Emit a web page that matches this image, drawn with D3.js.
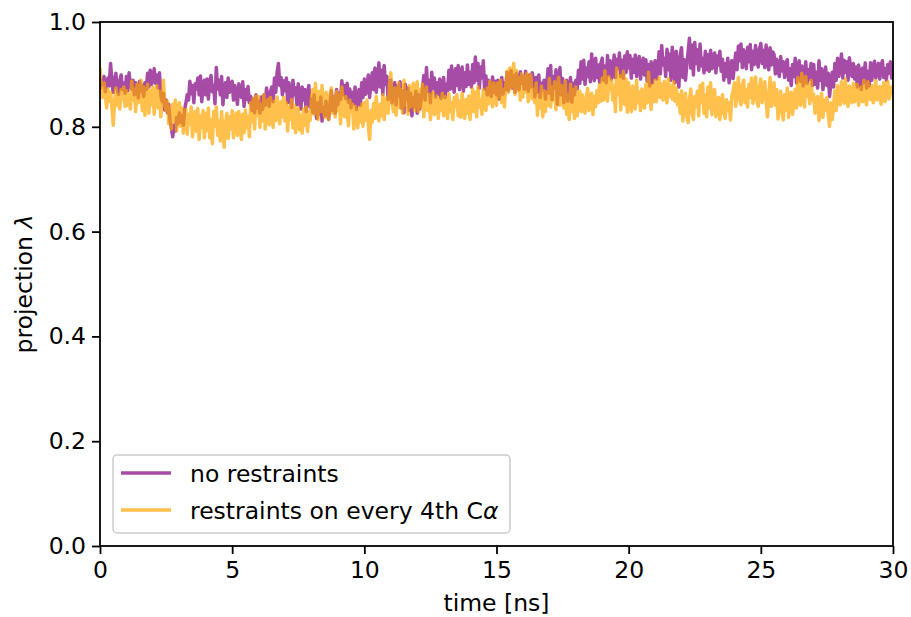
<!DOCTYPE html>
<html>
<head>
<meta charset="utf-8">
<script src="https://cdn.jsdelivr.net/npm/d3@7"></script>
<style>
  html, body { margin: 0; padding: 0; background: #fff; }
  svg { display: block; font-family: 'DejaVu Sans', sans-serif; }
</style>
</head>
<body>
<div id="chart"></div>
<script>
// projection lambda sampled every 0.05 ns, 0 .. 30 ns (one row = 1 ns)
const timeStep = 0.05

const noRestraints = [
  0.872, 0.889, 0.881, 0.896, 0.867, 0.884, 0.893, 0.878, 0.921, 0.886, 0.866, 0.891, 0.902, 0.874, 0.862, 0.888, 0.899, 0.871, 0.883, 0.864,
  0.896, 0.869, 0.903, 0.881, 0.872, 0.889, 0.861, 0.884, 0.876, 0.855, 0.887, 0.868, 0.879, 0.858, 0.884, 0.871, 0.902, 0.876, 0.908, 0.881,
  0.894, 0.911, 0.883, 0.899, 0.874, 0.903, 0.861, 0.848, 0.864, 0.832, 0.851, 0.827, 0.843, 0.812, 0.798, 0.781, 0.803, 0.792, 0.818, 0.806,
  0.827, 0.809, 0.821, 0.803, 0.832, 0.846, 0.861, 0.851, 0.887, 0.863, 0.879, 0.846, 0.882, 0.872, 0.893, 0.861, 0.897, 0.848, 0.876, 0.889,
  0.861, 0.891, 0.853, 0.884, 0.898, 0.867, 0.879, 0.844, 0.913, 0.872, 0.889, 0.861, 0.896, 0.842, 0.874, 0.884, 0.856, 0.893, 0.866, 0.882,
  0.887, 0.851, 0.879, 0.864, 0.843, 0.882, 0.868, 0.856, 0.886, 0.839, 0.871, 0.852, 0.877, 0.846, 0.858, 0.831, 0.854, 0.827, 0.861, 0.836,
  0.849, 0.826, 0.857, 0.833, 0.861, 0.841, 0.874, 0.851, 0.839, 0.868, 0.876, 0.848, 0.893, 0.866, 0.904, 0.921, 0.879, 0.894, 0.861, 0.888,
  0.869, 0.893, 0.846, 0.884, 0.857, 0.837, 0.889, 0.861, 0.874, 0.842, 0.882, 0.856, 0.834, 0.876, 0.851, 0.871, 0.829, 0.862, 0.879, 0.838,
  0.853, 0.827, 0.861, 0.832, 0.816, 0.846, 0.824, 0.857, 0.811, 0.838, 0.821, 0.849, 0.829, 0.814, 0.843, 0.869, 0.831, 0.858, 0.826, 0.871,
  0.842, 0.864, 0.852, 0.888, 0.861, 0.879, 0.854, 0.883, 0.847, 0.872, 0.836, 0.866, 0.844, 0.876, 0.833, 0.858, 0.871, 0.841, 0.884, 0.856,
  0.891, 0.862, 0.878, 0.899, 0.856, 0.884, 0.903, 0.871, 0.912, 0.866, 0.889, 0.922, 0.876, 0.908, 0.862, 0.917, 0.881, 0.896, 0.852, 0.887,
  0.889, 0.846, 0.871, 0.884, 0.842, 0.878, 0.859, 0.886, 0.836, 0.869, 0.827, 0.881, 0.852, 0.874, 0.831, 0.864, 0.821, 0.856, 0.838, 0.868,
  0.826, 0.861, 0.834, 0.852, 0.873, 0.898, 0.851, 0.913, 0.868, 0.889, 0.846, 0.904, 0.874, 0.893, 0.857, 0.884, 0.862, 0.891, 0.854, 0.878,
  0.894, 0.856, 0.881, 0.869, 0.908, 0.872, 0.916, 0.883, 0.866, 0.911, 0.879, 0.917, 0.871, 0.896, 0.914, 0.868, 0.903, 0.877, 0.918, 0.881,
  0.904, 0.876, 0.919, 0.884, 0.933, 0.889, 0.921, 0.874, 0.914, 0.893, 0.926, 0.872, 0.897, 0.861, 0.889, 0.872, 0.858, 0.895, 0.866, 0.887,
  0.861, 0.889, 0.853, 0.876, 0.894, 0.862, 0.884, 0.871, 0.904, 0.869, 0.891, 0.907, 0.874, 0.898, 0.866, 0.902, 0.879, 0.871, 0.905, 0.883,
  0.896, 0.872, 0.906, 0.881, 0.868, 0.899, 0.876, 0.903, 0.889, 0.857, 0.894, 0.866, 0.899, 0.856, 0.883, 0.871, 0.889, 0.853, 0.879, 0.911,
  0.864, 0.917, 0.852, 0.896, 0.874, 0.909, 0.843, 0.884, 0.913, 0.861, 0.892, 0.846, 0.876, 0.889, 0.849, 0.872, 0.894, 0.847, 0.883, 0.861,
  0.889, 0.872, 0.908, 0.883, 0.924, 0.891, 0.927, 0.881, 0.912, 0.896, 0.924, 0.886, 0.939, 0.903, 0.888, 0.931, 0.894, 0.918, 0.885, 0.921,
  0.931, 0.889, 0.916, 0.884, 0.936, 0.898, 0.926, 0.891, 0.903, 0.937, 0.894, 0.929, 0.911, 0.941, 0.896, 0.927, 0.892, 0.935, 0.904, 0.943,
  0.912, 0.936, 0.893, 0.929, 0.904, 0.937, 0.896, 0.922, 0.934, 0.891, 0.917, 0.931, 0.899, 0.928, 0.887, 0.919, 0.878, 0.924, 0.884, 0.913,
  0.926, 0.891, 0.907, 0.943, 0.901, 0.955, 0.918, 0.931, 0.896, 0.948, 0.909, 0.939, 0.889, 0.952, 0.921, 0.884, 0.944, 0.903, 0.876, 0.937,
  0.951, 0.894, 0.928, 0.889, 0.918, 0.944, 0.969, 0.912, 0.956, 0.899, 0.961, 0.921, 0.947, 0.908, 0.958, 0.916, 0.931, 0.903, 0.944, 0.909,
  0.938, 0.906, 0.946, 0.911, 0.927, 0.941, 0.903, 0.935, 0.918, 0.944, 0.906, 0.929, 0.889, 0.921, 0.896, 0.931, 0.884, 0.912, 0.926, 0.892,
  0.918, 0.941, 0.909, 0.954, 0.926, 0.958, 0.913, 0.947, 0.931, 0.911, 0.952, 0.924, 0.957, 0.909, 0.944, 0.919, 0.955, 0.928, 0.914, 0.949,
  0.959, 0.921, 0.946, 0.913, 0.956, 0.931, 0.909, 0.951, 0.918, 0.943, 0.938, 0.901, 0.929, 0.912, 0.896, 0.934, 0.907, 0.924, 0.894, 0.918,
  0.928, 0.889, 0.911, 0.879, 0.919, 0.896, 0.931, 0.884, 0.906, 0.926, 0.887, 0.916, 0.878, 0.902, 0.924, 0.883, 0.909, 0.891, 0.921, 0.879,
  0.919, 0.881, 0.904, 0.874, 0.926, 0.889, 0.911, 0.871, 0.897, 0.914, 0.879, 0.902, 0.858, 0.884, 0.904, 0.876, 0.921, 0.889, 0.931, 0.896,
  0.912, 0.939, 0.893, 0.927, 0.904, 0.924, 0.889, 0.932, 0.911, 0.896, 0.921, 0.891, 0.914, 0.876, 0.918, 0.897, 0.871, 0.912, 0.884, 0.922,
  0.874, 0.906, 0.878, 0.922, 0.889, 0.915, 0.925, 0.893, 0.908, 0.921, 0.891, 0.917, 0.926, 0.894, 0.911, 0.889, 0.919, 0.902, 0.924, 0.893,
  0.906
]

const restraints4th = [
  0.912, 0.878, 0.856, 0.884, 0.861, 0.836, 0.872, 0.849, 0.866, 0.838, 0.803, 0.847, 0.874, 0.841, 0.862, 0.834, 0.871, 0.852, 0.876, 0.839,
  0.869, 0.841, 0.862, 0.834, 0.887, 0.851, 0.872, 0.829, 0.881, 0.846, 0.864, 0.889, 0.831, 0.876, 0.822, 0.858, 0.881, 0.826, 0.869, 0.842,
  0.876, 0.824, 0.861, 0.879, 0.836, 0.868, 0.819, 0.852, 0.889, 0.846, 0.831, 0.849, 0.806, 0.838, 0.796, 0.843, 0.812, 0.851, 0.792, 0.829,
  0.846, 0.801, 0.836, 0.788, 0.819, 0.833, 0.786, 0.824, 0.806, 0.838, 0.781, 0.816, 0.829, 0.791, 0.835, 0.776, 0.821, 0.798, 0.831, 0.779,
  0.826, 0.793, 0.836, 0.779, 0.814, 0.768, 0.829, 0.801, 0.838, 0.784, 0.811, 0.773, 0.829, 0.791, 0.761, 0.806, 0.826, 0.778, 0.819, 0.796,
  0.831, 0.779, 0.812, 0.826, 0.784, 0.829, 0.801, 0.776, 0.824, 0.789, 0.832, 0.798, 0.819, 0.781, 0.846, 0.809, 0.854, 0.796, 0.859, 0.821,
  0.858, 0.799, 0.843, 0.811, 0.861, 0.796, 0.834, 0.852, 0.804, 0.856, 0.821, 0.799, 0.849, 0.812, 0.857, 0.826, 0.806, 0.848, 0.819, 0.856,
  0.811, 0.846, 0.792, 0.838, 0.814, 0.852, 0.798, 0.841, 0.789, 0.826, 0.836, 0.794, 0.821, 0.788, 0.834, 0.803, 0.838, 0.791, 0.829, 0.812,
  0.856, 0.871, 0.824, 0.883, 0.846, 0.814, 0.868, 0.829, 0.879, 0.838, 0.818, 0.866, 0.841, 0.814, 0.862, 0.874, 0.826, 0.857, 0.819, 0.868,
  0.831, 0.862, 0.806, 0.876, 0.844, 0.819, 0.858, 0.826, 0.802, 0.851, 0.831, 0.843, 0.796, 0.839, 0.814, 0.798, 0.836, 0.809, 0.843, 0.801,
  0.846, 0.812, 0.851, 0.803, 0.776, 0.831, 0.809, 0.845, 0.816, 0.858, 0.824, 0.811, 0.843, 0.821, 0.861, 0.814, 0.839, 0.856, 0.826, 0.878,
  0.903, 0.846, 0.829, 0.874, 0.822, 0.861, 0.884, 0.836, 0.871, 0.826, 0.889, 0.841, 0.866, 0.824, 0.879, 0.838, 0.856, 0.883, 0.831, 0.869,
  0.886, 0.829, 0.871, 0.838, 0.881, 0.819, 0.854, 0.876, 0.831, 0.862, 0.814, 0.849, 0.866, 0.823, 0.841, 0.859, 0.816, 0.852, 0.831, 0.864,
  0.821, 0.858, 0.836, 0.816, 0.863, 0.829, 0.846, 0.814, 0.856, 0.838, 0.861, 0.821, 0.849, 0.818, 0.864, 0.833, 0.816, 0.852, 0.826, 0.859,
  0.814, 0.848, 0.872, 0.829, 0.866, 0.819, 0.876, 0.838, 0.851, 0.824, 0.871, 0.846, 0.831, 0.874, 0.844, 0.887, 0.852, 0.838, 0.884, 0.859,
  0.841, 0.884, 0.856, 0.889, 0.846, 0.871, 0.838, 0.879, 0.906, 0.866, 0.912, 0.874, 0.898, 0.921, 0.862, 0.908, 0.869, 0.894, 0.851, 0.901,
  0.857, 0.896, 0.866, 0.902, 0.848, 0.884, 0.899, 0.853, 0.871, 0.846, 0.884, 0.822, 0.861, 0.836, 0.878, 0.819, 0.869, 0.829, 0.866, 0.841,
  0.892, 0.838, 0.876, 0.851, 0.886, 0.833, 0.869, 0.894, 0.841, 0.879, 0.856, 0.836, 0.888, 0.824, 0.861, 0.814, 0.881, 0.829, 0.871, 0.816,
  0.876, 0.821, 0.854, 0.868, 0.829, 0.861, 0.836, 0.826, 0.858, 0.873, 0.831, 0.849, 0.864, 0.823, 0.858, 0.838, 0.869, 0.846, 0.881, 0.849,
  0.893, 0.851, 0.907, 0.864, 0.849, 0.896, 0.871, 0.889, 0.851, 0.878, 0.829, 0.912, 0.861, 0.898, 0.832, 0.884, 0.906, 0.842, 0.891, 0.828,
  0.884, 0.841, 0.829, 0.878, 0.852, 0.834, 0.889, 0.846, 0.867, 0.831, 0.872, 0.858, 0.836, 0.881, 0.846, 0.904, 0.861, 0.833, 0.879, 0.848,
  0.889, 0.848, 0.871, 0.894, 0.856, 0.881, 0.851, 0.887, 0.864, 0.846, 0.892, 0.858, 0.878, 0.853, 0.886, 0.849, 0.874, 0.842, 0.861, 0.826,
  0.869, 0.811, 0.843, 0.864, 0.821, 0.808, 0.852, 0.872, 0.826, 0.814, 0.858, 0.838, 0.868, 0.821, 0.879, 0.846, 0.883, 0.826, 0.861, 0.819,
  0.876, 0.836, 0.884, 0.823, 0.858, 0.871, 0.819, 0.848, 0.856, 0.814, 0.841, 0.861, 0.826, 0.816, 0.852, 0.831, 0.846, 0.813, 0.858, 0.869,
  0.884, 0.839, 0.866, 0.894, 0.852, 0.842, 0.879, 0.889, 0.846, 0.871, 0.838, 0.881, 0.856, 0.893, 0.845, 0.869, 0.895, 0.851, 0.839, 0.876,
  0.891, 0.846, 0.874, 0.886, 0.849, 0.819, 0.858, 0.894, 0.839, 0.876, 0.884, 0.841, 0.871, 0.815, 0.852, 0.868, 0.826, 0.813, 0.861, 0.832,
  0.874, 0.818, 0.856, 0.866, 0.824, 0.849, 0.871, 0.836, 0.894, 0.852, 0.841, 0.902, 0.869, 0.838, 0.896, 0.858, 0.881, 0.844, 0.889, 0.851,
  0.862, 0.826, 0.847, 0.858, 0.812, 0.836, 0.864, 0.818, 0.851, 0.832, 0.856, 0.824, 0.801, 0.846, 0.814, 0.838, 0.869, 0.831, 0.879, 0.846,
  0.842, 0.886, 0.859, 0.845, 0.891, 0.852, 0.839, 0.878, 0.864, 0.846, 0.883, 0.848, 0.872, 0.881, 0.841, 0.866, 0.876, 0.848, 0.889, 0.854,
  0.842, 0.886, 0.861, 0.852, 0.879, 0.846, 0.868, 0.888, 0.851, 0.872, 0.877, 0.843, 0.866, 0.884, 0.848, 0.871, 0.887, 0.853, 0.864, 0.876,
  0.861
]

const xTicks = [0, 5, 10, 15, 20, 25, 30]
const yTicks = [0.0, 0.2, 0.4, 0.6, 0.8, 1.0]

const series = [
  { name: 'no restraints', values: noRestraints, color: 'purple' },
  { name: 'restraints on every 4th C', greek: 'α', values: restraints4th, color: 'orange' }
]

const width = 911
const height = 617
const margin = { top: 22, right: 18, bottom: 71, left: 100 }
const inner = { w: width - margin.left - margin.right, h: height - margin.top - margin.bottom }
const fontSize = 23.5
const lineW = 3.5

const svg = d3.select('#chart').append('svg')
  .attr('width', width).attr('height', height)

const g = svg.append('g').attr('transform', `translate(${margin.left},${margin.top})`)

const x = d3.scaleLinear().domain([0, 30]).range([0, inner.w])
const y = d3.scaleLinear().domain([0, 1]).range([inner.h, 0])

svg.append('defs').append('clipPath').attr('id', 'plot-clip')
  .append('rect').attr('width', inner.w).attr('height', inner.h)

// Lines
const line = d3.line()
  .x((d, i) => x(i * timeStep))
  .y(d => y(d))

const lines = g.append('g').attr('clip-path', 'url(#plot-clip)')
series.forEach(s => {
  lines.append('path')
    .datum(s.values)
    .attr('d', line)
    .attr('fill', 'none')
    .attr('stroke', s.color)
    .attr('stroke-opacity', 0.7)
    .attr('stroke-width', lineW)
    .attr('stroke-linejoin', 'round')
})

// Axes
const xAxis = g.append('g').attr('transform', `translate(0,${inner.h})`)
  .call(d3.axisBottom(x).tickValues(xTicks).tickFormat(d3.format('d')).tickSize(8).tickPadding(7))
const yAxis = g.append('g')
  .call(d3.axisLeft(y).tickValues(yTicks).tickFormat(d3.format('.1f')).tickSize(8).tickPadding(6))

;[xAxis, yAxis].forEach(ax => {
  ax.select('.domain').remove()
  ax.selectAll('line').attr('stroke', '#000').attr('stroke-width', 1.8)
  ax.selectAll('text').attr('fill', '#000').style('font-size', fontSize + 'px')
    .style('font-family', "'DejaVu Sans', sans-serif")
})

// Frame
g.append('rect')
  .attr('width', inner.w).attr('height', inner.h)
  .attr('fill', 'none').attr('stroke', '#000').attr('stroke-width', 1.8)

// Axis labels
svg.append('text')
  .attr('x', margin.left + inner.w / 2).attr('y', height - 6)
  .attr('text-anchor', 'middle').style('font-size', fontSize + 'px')
  .text('time [ns]')

const yl = svg.append('text')
  .attr('transform', `translate(32,${margin.top + inner.h / 2}) rotate(-90)`)
  .attr('text-anchor', 'middle').style('font-size', fontSize + 'px')
yl.append('tspan').text('projection ')
yl.append('tspan').style('font-style', 'italic').text('λ')

// Legend
const legend = g.append('g').attr('transform', `translate(13,${inner.h - 91})`)
legend.append('rect')
  .attr('width', 397).attr('height', 78).attr('rx', 4)
  .attr('fill', '#fff').attr('fill-opacity', 0.8)
  .attr('stroke', '#ccc').attr('stroke-width', 1.5)

series.forEach((s, i) => {
  const ly = 18 + i * 37
  legend.append('line')
    .attr('x1', 8).attr('x2', 58).attr('y1', ly).attr('y2', ly)
    .attr('stroke', s.color).attr('stroke-opacity', 0.7).attr('stroke-width', lineW)
  const t = legend.append('text')
    .attr('x', 77).attr('y', ly + 9)
    .style('font-size', fontSize + 'px')
  t.append('tspan').text(s.name)
  if (s.greek) t.append('tspan').style('font-style', 'italic').text(s.greek)
})
</script>
</body>
</html>
